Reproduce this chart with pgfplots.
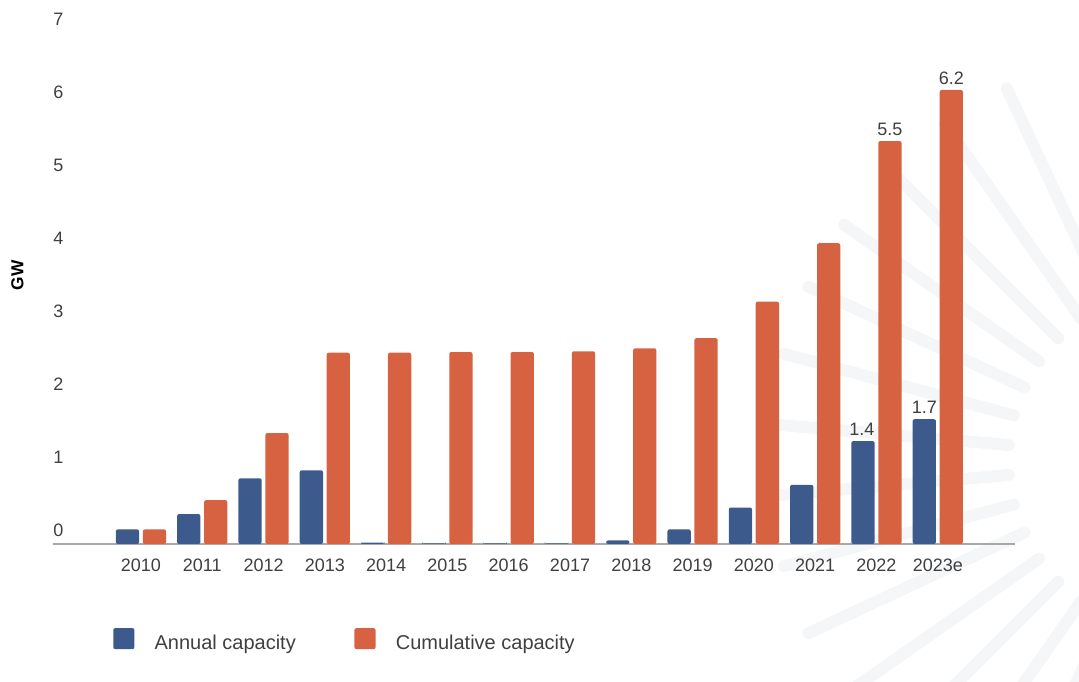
\documentclass[border=0pt]{standalone}
\usepackage{pgfplots}
\pgfplotsset{compat=1.18}
\usepackage{fontspec}
\setmainfont{Liberation Sans}
\definecolor{annual}{HTML}{3D5A8C}
\definecolor{cumul}{HTML}{D66242}
\definecolor{txt}{HTML}{3F3F3F}
\definecolor{raygray}{HTML}{F5F6F8}
\definecolor{axgray}{HTML}{A8A8A8}
\begin{document}
\begin{tikzpicture}
\path[use as bounding box] (0,0) rectangle (809.25pt,511.5pt);
\begin{scope}[x=0.75pt,y=0.75pt]
\clip (0,0) rectangle (1079,682);
\foreach \a in {115,125,...,265}
  \draw[raygray, line width=9pt, line cap=round] (1180,222) ++(\a:172) -- ++(\a:238);
\end{scope}
\begin{axis}[
  at={(39.75pt,103.5pt)}, anchor=south west,
  scale only axis, width=721.5pt, height=383.25pt,
  xmin=-1.435, xmax=14.26, ymin=0, ymax=7,
  xtick={0,1,2,3,4,5,6,7,8,9,10,11,12,13},
  xticklabels={2010,2011,2012,2013,2014,2015,2016,2017,2018,2019,2020,2021,2022,2023e},
  ytick={0,1,2,3,4,5,6,7},
  /pgf/number format/assume math mode=true,
  tick label style={font=\fontsize{13.5}{16}\selectfont, text=txt},
  xticklabel style={anchor=base, inner sep=0pt, yshift=-21pt},
  yticklabel style={anchor=base west, inner sep=0pt, yshift=5.6pt},
  major tick length=0pt,
  axis lines*=left,
  separate axis lines,
  x axis line style={-, draw=axgray, line width=1.5pt},
  y axis line style={draw=none},
  ylabel={\bfseries GW},
  ylabel style={at={(axis description cs:-0.037,0.526)}, anchor=center, font=\fontsize{13}{15}\selectfont, text=black},
  legend style={at={(axis description cs:0.0624,-0.19)}, anchor=west, draw=none, fill=none,
    legend columns=2, font=\fontsize{15}{18}\selectfont, text=txt, inner sep=0pt,
    /tikz/every even column/.append style={column sep=42pt}},
  legend image code/.code={\fill[#1] (0pt,-4.5pt) rectangle (15.8pt,11.3pt); \path (29pt,0pt);},
  every node near coord/.append style={font=\fontsize{13.5}{16}\selectfont, text=txt, inner sep=0pt, anchor=south, yshift=4pt},
]
\addplot[ybar, bar width=0.38, bar shift=-0.22, fill=annual, draw=none, rounded corners=1.5pt]
  coordinates {(0,0.20) (1,0.41) (2,0.90) (3,1.01) (4,0.02) (5,0.01) (6,0.01) (7,0.01) (8,0.05) (9,0.20) (10,0.50) (11,0.81) (12,1.41) (13,1.71)};
\addlegendentry{Annual capacity}
\addplot[ybar, bar width=0.38, bar shift=0.22, fill=cumul, draw=none, rounded corners=1.5pt]
  coordinates {(0,0.20) (1,0.60) (2,1.52) (3,2.62) (4,2.62) (5,2.63) (6,2.63) (7,2.64) (8,2.68) (9,2.82) (10,3.32) (11,4.12) (12,5.52) (13,6.22)};
\addlegendentry{Cumulative capacity}
\addplot[only marks, mark=none, forget plot, nodes near coords, point meta=explicit symbolic]
  coordinates {(11.76,1.41)[1.4] (12.78,1.71)[1.7] (12.22,5.52)[5.5] (13.22,6.22)[6.2]};
\end{axis}
\end{tikzpicture}
\end{document}
